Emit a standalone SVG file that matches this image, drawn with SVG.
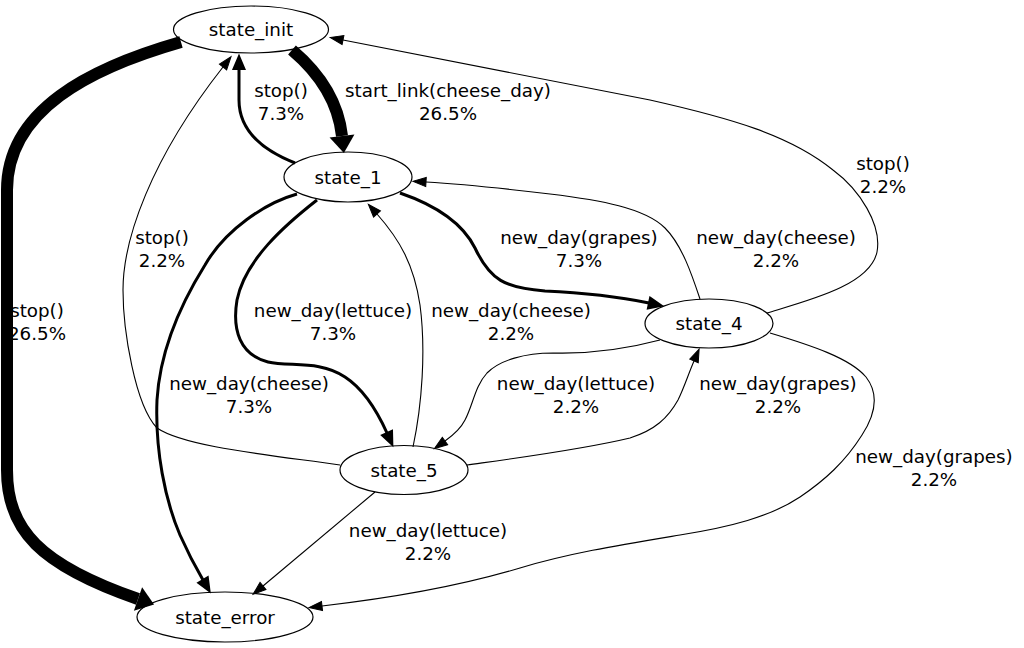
<svg xmlns="http://www.w3.org/2000/svg" width="1024" height="648" viewBox="0 0 1024 648">
<style>
text{font-family:"DejaVu Sans","Liberation Sans",sans-serif;font-size:18.3px;fill:#000;text-anchor:middle}
.node ellipse{fill:none;stroke:#000;stroke-width:1.2}
.e{fill:none;stroke:#000}
.thin{stroke-width:1.1;marker-end:url(#aThin)}
.med{stroke-width:3;marker-end:url(#aMed)}
.thick{stroke-width:12;marker-end:url(#aThick)}
</style>
<defs>
<marker id="aThin" markerUnits="userSpaceOnUse" orient="auto" refX="0" refY="0" markerWidth="20" markerHeight="20" viewBox="-2 -8 20 16" overflow="visible"><path d="M0,-4.6 L13,0 L0,4.6 Z" fill="#000" stroke="#000" stroke-width="1"/></marker>
<marker id="aMed" markerUnits="userSpaceOnUse" orient="auto" refX="0" refY="0" markerWidth="24" markerHeight="24" viewBox="-2 -10 24 20" overflow="visible"><path d="M0,-5.5 L13,0 L0,5.5 Z" fill="#000" stroke="#000" stroke-width="2" stroke-linejoin="miter"/></marker>
<marker id="aThick" markerUnits="userSpaceOnUse" orient="auto" refX="0" refY="0" markerWidth="34" markerHeight="34" viewBox="-2 -16 34 32" overflow="visible"><path d="M0,-12.5 L17,0 L0,12.5 Z" fill="#000"/></marker>
</defs>
<rect x="0" y="0" width="1024" height="648" fill="#fff"/>

<g id="state_init" class="node"><ellipse cx="251" cy="29.5" rx="77.5" ry="23.5"/><text x="251" y="36">state_init</text></g>
<g id="state_1" class="node"><ellipse cx="348" cy="177" rx="64" ry="25"/><text x="348" y="183.5">state_1</text></g>
<g id="state_4" class="node"><ellipse cx="709" cy="323.5" rx="64" ry="24.5"/><text x="709" y="330">state_4</text></g>
<g id="state_5" class="node"><ellipse cx="404" cy="470" rx="64" ry="24.5"/><text x="404" y="476.5">state_5</text></g>
<g id="state_error" class="node"><ellipse cx="225" cy="617" rx="88" ry="25"/><text x="225" y="623.5">state_error</text></g>

<g id="connectors">
<g id="e_init_error"><path class="e thick" d="M181,42 C90,68 7,110 7,190 L7,470 C7,530 40,565 138,599"/><text x="37" y="317">stop()</text><text x="37" y="340">26.5%</text></g>
<g id="e_init_1"><path class="e thick" d="M292,50 C318,72 338,100 342,136"/><text x="448" y="97">start_link(cheese_day)</text><text x="448" y="120">26.5%</text></g>
<g id="e_1_init"><path class="e med" d="M295,163 C262,150 239,130 239,100 L239,69"/><text x="281" y="97">stop()</text><text x="281" y="120">7.3%</text></g>
<g id="e_5_init"><path class="e thin" d="M340,465 C270,455 185,447 157,428 C135,405 123,330 123,290 C123,240 150,160 223,67"/><text x="162" y="244">stop()</text><text x="162" y="267">2.2%</text></g>
<g id="e_4_init"><path class="e thin" d="M767,313 C810,300 870,285 877,252 C882,225 860,190 833,170 C790,135 730,118 650,100 L343,40"/><text x="883" y="170">stop()</text><text x="883" y="193">2.2%</text></g>
<g id="e_1_4"><path class="e med" d="M400,193 C435,205 462,222 475,248 C490,280 505,288 545,291 C590,293 620,297 649,303"/><text x="579" y="244">new_day(grapes)</text><text x="579" y="267">7.3%</text></g>
<g id="e_4_1"><path class="e thin" d="M700,299 C692,275 682,245 665,228 C645,208 600,200 550,194 C500,188 460,184 426,182"/><text x="776" y="244">new_day(cheese)</text><text x="776" y="267">2.2%</text></g>
<g id="e_1_5"><path class="e med" d="M317,200 C285,225 245,260 237,300 C232,330 240,355 268,362 C290,367 320,360 345,377 C365,390 378,413 387,433"/><text x="333" y="317">new_day(lettuce)</text><text x="333" y="340">7.3%</text></g>
<g id="e_5_1"><path class="e thin" d="M413,447 C422,405 426,350 420,305 C414,265 400,240 377,214"/><text x="511" y="317">new_day(cheese)</text><text x="511" y="340">2.2%</text></g>
<g id="e_1_error"><path class="e med" d="M297,194 C265,203 225,230 205,265 C180,305 160,350 157,400 C155,450 165,500 180,535 C188,553 196,568 203,580"/><text x="249" y="390">new_day(cheese)</text><text x="249" y="413">7.3%</text></g>
<g id="e_4_5"><path class="e thin" d="M660,340 C630,348 590,354 553,353 C525,353 500,360 487,373 C475,386 473,405 465,420 C460,430 452,436 445,441"/><text x="576" y="390">new_day(lettuce)</text><text x="576" y="413">2.2%</text></g>
<g id="e_5_4"><path class="e thin" d="M467,465 C510,459 580,450 630,438 C655,430 668,418 678,400 C684,388 688,375 694,361"/><text x="778" y="390">new_day(grapes)</text><text x="778" y="413">2.2%</text></g>
<g id="e_4_error"><path class="e thin" d="M770,333 C810,345 850,358 866,377 C880,395 875,415 862,435 C845,462 825,480 800,497 C770,517 730,527 680,535 C620,545 570,553 520,568 C470,583 400,597 322,606"/><text x="934" y="463">new_day(grapes)</text><text x="934" y="486">2.2%</text></g>
<g id="e_5_error"><path class="e thin" d="M375,492 L263,586"/><text x="428" y="537">new_day(lettuce)</text><text x="428" y="560">2.2%</text></g>
</g>
</svg>
